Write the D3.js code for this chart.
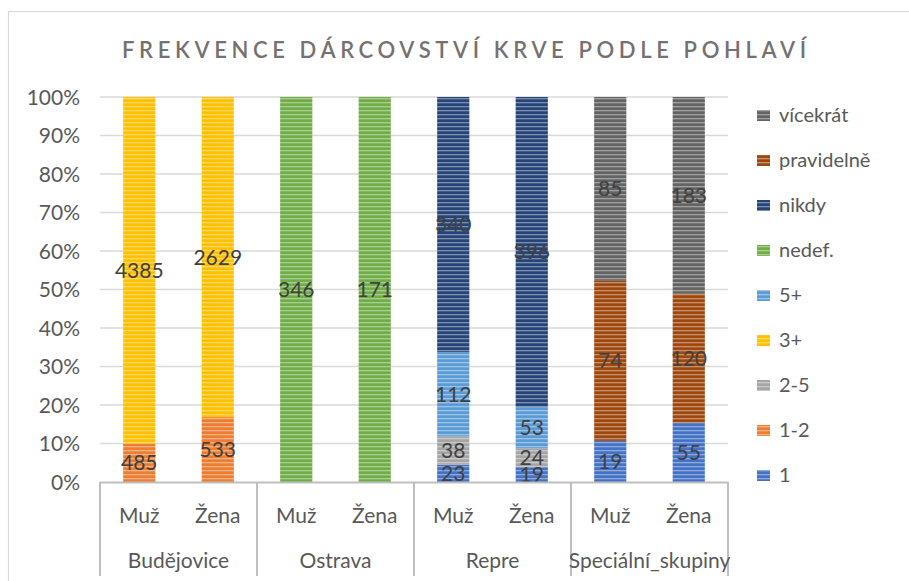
<!DOCTYPE html>
<html><head><meta charset="utf-8">
<script src="https://cdn.jsdelivr.net/npm/d3@7"></script>
<style>body{margin:0;background:#fff;font-family:Lato,"Open Sans",sans-serif;}</style>
</head><body><svg id="c" width="909" height="581"></svg>
<script>
const groups = ["Budějovice","Ostrava","Repre","Speciální_skupiny"];
const genders = ["Muž","Žena"];
const seriesNames = ["1","1-2","2-5","3+","5+","nedef.","nikdy","pravidelně","vícekrát"];
const seriesColors = ["#4472C4","#ED7D31","#A5A5A5","#FFC000","#5B9BD5","#70AD47","#264478","#9E480E","#636363"];
// values per series, ordered: Bud M, Bud Z, Ost M, Ost Z, Rep M, Rep Z, Spec M, Spec Z
const s1          = [0,0,0,0,23,19,19,55];
const s1_2        = [485,533,0,0,0,0,0,0];
const s2_5        = [0,0,0,0,38,24,0,0];
const s3plus      = [4385,2629,0,0,0,0,0,0];
const s5plus      = [0,0,0,0,112,53,0,0];
const sNedef      = [0,0,346,171,0,0,0,0];
const sNikdy      = [0,0,0,0,340,396,0,0];
const sPravidelne = [0,0,0,0,0,0,74,120];
const sVicekrat   = [0,0,0,0,0,0,85,183];
const yTicks = [0,0.1,0.2,0.3,0.4,0.5,0.6,0.7,0.8,0.9,1];

(function(){
const seriesVals = [s1,s1_2,s2_5,s3plus,s5plus,sNedef,sNikdy,sPravidelne,sVicekrat];
const cats = [];
groups.forEach(g=>genders.forEach(s=>cats.push(g+"|"+s)));

const svg = d3.select("#c");
const W=909,H=581;
const pL=100,pR=728,pT=97,pB=482;
const FS=21;

// outer border
svg.append("rect").attr("x",8.5).attr("y",11.5).attr("width",W+10).attr("height",H+10)
  .attr("fill","none").attr("stroke","#d9d9d9").attr("stroke-width",1.2);

const defs = svg.append("defs");
seriesColors.forEach((c,i)=>{
  const p = defs.append("pattern").attr("id","p"+i).attr("patternUnits","userSpaceOnUse")
    .attr("width",8).attr("height",4);
  p.append("rect").attr("width",8).attr("height",4).attr("fill",c);
  p.append("rect").attr("y",2).attr("width",8).attr("height",1.3).attr("fill","#fff").attr("opacity",0.4);
});

const x = d3.scaleBand().domain(cats).range([pL,pR]).paddingInner(0.59).paddingOuter(0.295);
const y = d3.scaleLinear().domain([0,1]).range([pB,pT]);

// gridlines
svg.append("g").selectAll("line").data(yTicks.slice(1)).join("line")
  .attr("x1",pL).attr("x2",pR).attr("y1",d=>y(d)).attr("y2",d=>y(d))
  .attr("stroke","#d9d9d9").attr("stroke-width",1.3);

// y axis labels
const yAxis = d3.axisLeft(y).tickValues(yTicks).tickFormat(d3.format(".0%")).tickSize(0).tickPadding(0);
const ya = svg.append("g").attr("transform",`translate(80,0)`).call(yAxis);
ya.select(".domain").remove();
ya.selectAll("text").attr("font-size",FS).attr("fill","#595959").attr("font-family","Lato,sans-serif").attr("dy","0.35em");

// stacking
const rows = cats.map((c,i)=>{const o={cat:c}; seriesNames.forEach((s,j)=>o[s]=seriesVals[j][i]); return o;});
const stack = d3.stack().keys(seriesNames).offset(d3.stackOffsetExpand);
const stacked = stack(rows);

const gBars = svg.append("g");
stacked.forEach((ser,si)=>{
  gBars.append("g").selectAll("rect").data(ser.filter(d=>d[1]-d[0]>0)).join("rect")
    .attr("x",d=>x(d.data.cat)).attr("width",x.bandwidth())
    .attr("y",d=>y(d[1])).attr("height",d=>y(d[0])-y(d[1]))
    .attr("fill","url(#p"+si+")");
});
// labels
stacked.forEach((ser,si)=>{
  gBars.append("g").selectAll("text").data(ser.filter(d=>d[1]-d[0]>0)).join("text")
    .attr("x",d=>x(d.data.cat)+x.bandwidth()/2).attr("y",d=>y((d[0]+d[1])/2))
    .attr("dy","0.36em").attr("text-anchor","middle").attr("font-size",FS).attr("fill","#404040")
    .text(d=>d.data[ser.key]);
});

// category axis
const ax = svg.append("g");
ax.append("line").attr("x1",pL).attr("x2",pR).attr("y1",pB+0.5).attr("y2",pB+0.5)
  .attr("stroke","#bfbfbf").attr("stroke-width",2);
const groupW = (pR-pL)/groups.length;
d3.range(groups.length+1).forEach(i=>{
  const xx = pL+i*groupW;
  ax.append("line").attr("x1",xx).attr("x2",xx).attr("y1",pB).attr("y2",576)
    .attr("stroke","#bfbfbf").attr("stroke-width",2);
});
ax.selectAll("text.sub").data(cats).join("text").attr("class","sub")
  .attr("x",d=>x(d)+x.bandwidth()/2).attr("y",523).attr("text-anchor","middle")
  .attr("font-size",FS).attr("fill","#595959").text(d=>d.split("|")[1]);
ax.selectAll("text.grp").data(groups).join("text").attr("class","grp")
  .attr("x",(d,i)=>pL+(i+0.5)*groupW).attr("y",568).attr("text-anchor","middle")
  .attr("font-size",FS).attr("fill","#595959").text(d=>d);

// title
svg.append("text").attr("x",464).attr("y",58).attr("text-anchor","middle")
  .attr("font-size",22).attr("font-weight",600).attr("fill","#767171")
  .attr("textLength",684).attr("lengthAdjust","spacing")
  .text("FREKVENCE DÁRCOVSTVÍ KRVE PODLE POHLAVÍ");

// legend (reverse order)
const leg = svg.append("g");
const legOrder = seriesNames.map((s,i)=>i).reverse();
legOrder.forEach((si,k)=>{
  const yy = 115 + k*45;
  leg.append("rect").attr("x",757).attr("y",yy-5).attr("width",13).attr("height",11).attr("fill","url(#p"+si+")");
  leg.append("text").attr("x",779).attr("y",yy).attr("dy","0.36em").attr("font-size",20)
    .attr("fill","#595959").text(seriesNames[si]);
});
})();
</script></body></html>
